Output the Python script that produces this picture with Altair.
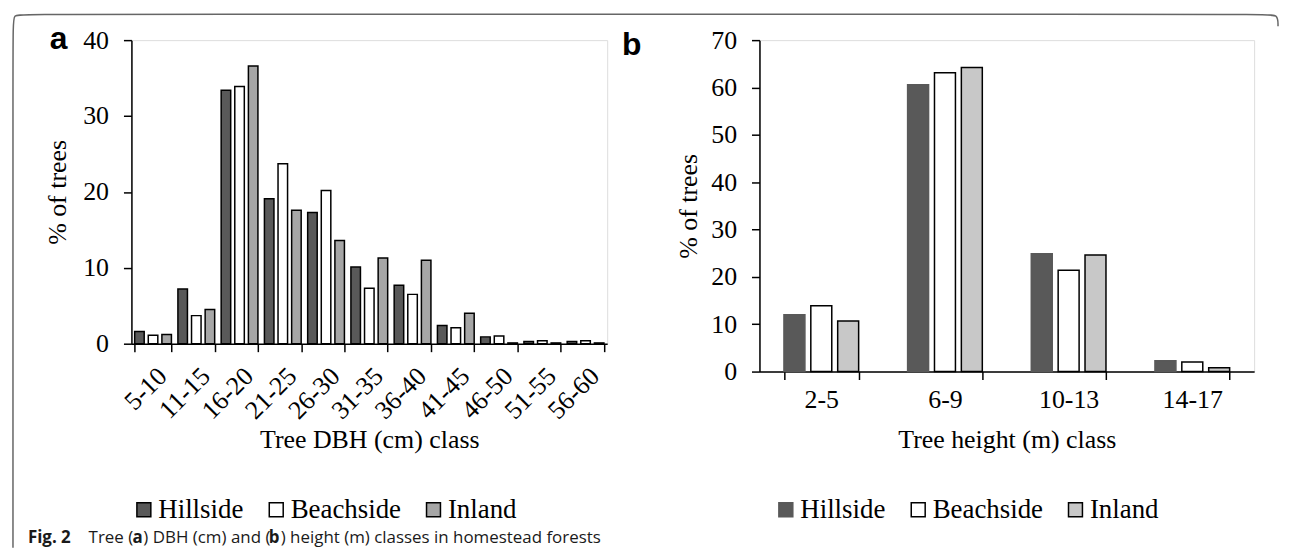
import altair as alt
import pandas as pd

# ---------------- data ----------------
sites = ["Hillside", "Beachside", "Inland"]

dbh_classes = ["5-10", "11-15", "16-20", "21-25", "26-30", "31-35",
               "36-40", "41-45", "46-50", "51-55", "56-60"]
dbh_hillside = [1.6, 7.2, 33.4, 19.1, 17.3, 10.1, 7.7, 2.4, 0.9, 0.3, 0.3]
dbh_beachside = [1.1, 3.7, 33.9, 23.7, 20.2, 7.3, 6.5, 2.1, 1.0, 0.4, 0.4]
dbh_inland = [1.2, 4.5, 36.6, 17.6, 13.6, 11.3, 11.0, 4.0, 0.1, 0.1, 0.1]

height_classes = ["2-5", "6-9", "10-13", "14-17"]
ht_hillside = [12.0, 60.6, 24.9, 2.3]
ht_beachside = [13.9, 63.1, 21.4, 2.0]
ht_inland = [10.7, 64.2, 24.6, 0.8]

colors_a = ["#595959", "#ffffff", "#a6a6a6"]
colors_b = ["#595959", "#ffffff", "#c8c8c8"]
strokes_b = ["#595959", "#000000", "#000000"]


def long_df(classes, series):
    rows = []
    for i, c in enumerate(classes):
        for s, vals in zip(sites, series):
            rows.append({"cls": c, "site": s, "pct": vals[i]})
    return pd.DataFrame(rows)


df_a = long_df(dbh_classes, [dbh_hillside, dbh_beachside, dbh_inland])
df_b = long_df(height_classes, [ht_hillside, ht_beachside, ht_inland])

SERIF = "Liberation Serif"
SANS = "Open Sans"

# panel geometry (plot areas)
A_W, A_H = 478, 305
B_W, B_H = 497, 333
A_X0, A_Y0 = 129, 36   # page position of panel a plot origin
B_X0, B_Y0 = 760, 36

axis_style = dict(
    labelFont=SERIF, titleFont=SERIF, labelFontSize=26, titleFontSize=26,
    labelColor="black", titleColor="black", domainColor="black",
    tickColor="black", domainWidth=1.5, tickWidth=1.5, tickSize=8,
    titleFontWeight="normal", grid=False,
)

legend_style = dict(
    title=None, orient="none", direction="horizontal", symbolType="square",
    symbolSize=196, symbolStrokeWidth=1.5, labelFont=SERIF, labelFontSize=27,
    labelColor="black", columnPadding=19, padding=0, symbolOpacity=1,
    labelOffset=1,
)

# ---------------- panel a ----------------
bars_a = alt.Chart(df_a).mark_bar(stroke="black", strokeWidth=1.5).encode(
    x=alt.X("cls:N", sort=dbh_classes,
            scale=alt.Scale(domain=dbh_classes, paddingInner=0.15, paddingOuter=0.075),
            axis=alt.Axis(title="Tree DBH (cm) class", labelAngle=315,
                          labelAlign="right", labelBaseline="top",
                          tickBand="extent", labelPadding=11, titlePadding=3,
                          **axis_style)),
    xOffset=alt.XOffset("site:N", scale=alt.Scale(domain=sites, paddingInner=0.3, paddingOuter=0)),
    y=alt.Y("pct:Q", scale=alt.Scale(domain=[0, 40], nice=False),
            axis=alt.Axis(title="% of trees", values=[0, 10, 20, 30, 40],
                          labelPadding=15, titlePadding=12, **axis_style)),
    fill=alt.Fill("site:N", scale=alt.Scale(domain=sites, range=colors_a),
                  legend=alt.Legend(legendX=-1, legendY=458,
                                    symbolStrokeColor="black", **legend_style)),
)

# border (decoration) in page coordinates, converted to panel-a relative
border_px = [10, 10, 10, 22, 1269, 1281, 1281]
border_py = [546, 22, 10, 10, 10, 10, 22]
border_df = pd.DataFrame({
    "i": list(range(len(border_px))),
    "px": [v - A_X0 for v in border_px],
    "py": [v - A_Y0 for v in border_py],
})
border = alt.Chart(border_df).mark_line(
    color="#666666", strokeWidth=1.5, interpolate="basis"
).encode(
    x=alt.X("px:Q", scale=None, axis=None),
    y=alt.Y("py:Q", scale=None, axis=None),
    order=alt.Order("i:Q"),
)

label_a = alt.Chart(pd.DataFrame({"t": ["a"]})).mark_text(
    font="Liberation Sans", fontSize=32, fontWeight="bold", align="left",
    baseline="alphabetic", color="black"
).encode(x=alt.value(47 - A_X0), y=alt.value(45 - A_Y0), text="t:N")

# caption pieces: (text, page x, bold)
cap_text = ["Fig. 2", "Tree (", "a", ") DBH (cm) and (", "b",
            ") height (m) classes in homestead forests"]
cap_x = [25, 86, 130, 141, 267, 279]
cap_bold = [True, False, True, False, True, False]
cap_df = pd.DataFrame({"t": cap_text, "px": [v - A_X0 for v in cap_x], "b": cap_bold})
cap_y = 536 - A_Y0


def caption_layer(bold):
    return alt.Chart(cap_df[cap_df["b"] == bold]).mark_text(
        font=SANS, fontSize=17, fontWeight="bold" if bold else "normal",
        align="left", baseline="middle", color="#1a1a1a"
    ).encode(x=alt.X("px:Q", scale=None, axis=None), y=alt.value(cap_y), text="t:N")


panel_a = alt.layer(
    bars_a, border, label_a, caption_layer(True), caption_layer(False)
).properties(width=A_W, height=A_H)

# ---------------- panel b ----------------
leg_b = alt.Legend(legendX=13, legendY=458, **legend_style)
bars_b = alt.Chart(df_b).mark_bar(strokeWidth=1.5).encode(
    x=alt.X("cls:N", sort=height_classes,
            scale=alt.Scale(domain=height_classes, paddingInner=0.396, paddingOuter=0.198),
            axis=alt.Axis(title="Tree height (m) class", labelAngle=0,
                          tickBand="extent", labelPadding=7, titlePadding=14,
                          **axis_style)),
    xOffset=alt.XOffset("site:N", scale=alt.Scale(domain=sites, paddingInner=0.22, paddingOuter=0)),
    y=alt.Y("pct:Q", scale=alt.Scale(domain=[0, 70], nice=False),
            axis=alt.Axis(title="% of trees", values=[0, 10, 20, 30, 40, 50, 60, 70],
                          labelPadding=15, titlePadding=9, **axis_style)),
    fill=alt.Fill("site:N", scale=alt.Scale(domain=sites, range=colors_b), legend=leg_b),
    stroke=alt.Stroke("site:N", scale=alt.Scale(domain=sites, range=strokes_b), legend=leg_b),
)

label_b = alt.Chart(pd.DataFrame({"t": ["b"]})).mark_text(
    font="Liberation Sans", fontSize=32, fontWeight="bold", align="left",
    baseline="alphabetic", color="black"
).encode(x=alt.value(622 - B_X0), y=alt.value(51 - B_Y0), text="t:N")

panel_b = alt.layer(bars_b, label_b).properties(width=B_W, height=B_H)

chart = alt.hconcat(
    panel_a, panel_b, spacing=B_X0 - A_X0 - A_W, bounds="flush"
).resolve_scale(
    fill="independent", stroke="independent", x="independent", y="independent",
    xOffset="independent"
).resolve_legend(
    fill="independent", stroke="independent"
).properties(
    padding={"left": 1, "top": 1, "right": 0, "bottom": 0}
).configure_view(stroke=None).configure(background="white")

chart.save("out.html", embed_options={"renderer": "svg", "actions": False})
